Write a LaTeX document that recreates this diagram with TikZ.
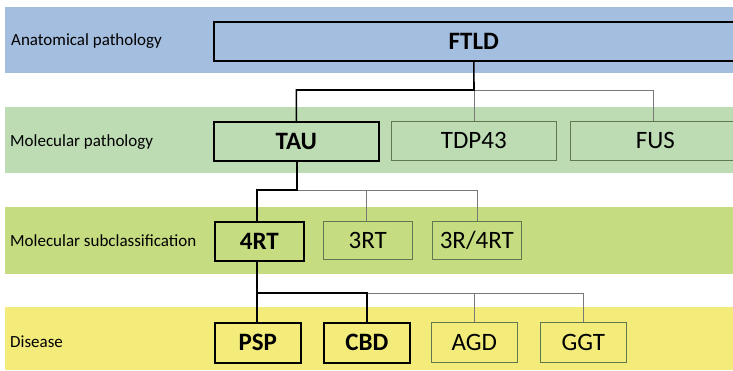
\documentclass[tikz,border=0pt]{standalone}
\usepackage{fontspec}
\setmainfont{Carlito}
\definecolor{bandblue}{RGB}{164,190,224}
\definecolor{bandgreen}{RGB}{190,220,180}
\definecolor{bandlime}{RGB}{198,220,128}
\definecolor{bandyellow}{RGB}{243,236,123}
\definecolor{thinline}{RGB}{120,120,120}
\definecolor{thinbox}{RGB}{95,120,80}
\begin{document}
\begin{tikzpicture}[x=1pt,y=-1pt,
  rowlabel/.style={anchor=west,font=\fontsize{17}{19}\selectfont,inner sep=0pt},
  boldbox/.style={draw=black,line width=1.6pt,font=\fontsize{25}{27}\selectfont\bfseries,inner sep=0pt},
  thinbx/.style={draw=thinbox,line width=0.6pt,font=\fontsize{25}{27}\selectfont,inner sep=0pt},
  thick link/.style={draw=black,line width=1.6pt},
  thin link/.style={draw=thinline,line width=0.6pt}]
\useasboundingbox (0,0) rectangle (733,370);
\fill[white] (0,0) rectangle (733,370);
% bands
\fill[bandblue] (5,7) rectangle (733,73);
\fill[bandgreen] (5,107) rectangle (733,173);
\fill[bandlime] (5,207) rectangle (733,274);
\fill[bandyellow] (5,307) rectangle (733,370);
% row labels
\node[rowlabel] (l1) at (11,41) {Anatomical pathology};
\node[rowlabel] (l2) at (10,142) {Molecular pathology};
\node[rowlabel] (l3) at (10,241) {Molecular subclassification};
\node[rowlabel] (l4) at (10,342) {Disease};
% connector coordinates
\coordinate (j1) at (474,90);
\coordinate (j2) at (297,190);
\coordinate (j3) at (257,293);
% thin connectors first
\draw[thin link] (j1) -| (653,121);
\draw[thin link] (j1) -- (474,121);
\draw[thin link] (j2) -| (477,221);
\draw[thin link] (366,190) -- (366,221);
\draw[thin link] (366,293) -| (583,322);
\draw[thin link] (474,293) -- (474,322);
% boxes
\node[boldbox,fill=bandblue,minimum width=520,minimum height=39,anchor=north west] (ftld) at (213,21) {FTLD};
\node[boldbox,fill=bandgreen,minimum width=165,minimum height=39,anchor=north west] (tau) at (213,121) {TAU};
\node[thinbx,fill=bandgreen,minimum width=165,minimum height=39,anchor=north west] (tdp) at (391,121) {TDP43};
\node[thinbx,fill=bandgreen,minimum width=170,minimum height=39,anchor=north west] (fus) at (570,121) {FUS};
\node[boldbox,fill=bandlime,minimum width=89,minimum height=39,anchor=north west] (r4) at (214,221) {4RT};
\node[thinbx,fill=bandlime,minimum width=89,minimum height=38,anchor=north west] (r3) at (323,221) {3RT};
\node[thinbx,fill=bandlime,minimum width=89,minimum height=38,anchor=north west] (r34) at (432,221) {3R/4RT};
\node[boldbox,fill=bandyellow,minimum width=86,minimum height=40,anchor=north west] (psp) at (214,322) {PSP};
\node[boldbox,fill=bandyellow,minimum width=86,minimum height=40,anchor=north west] (cbd) at (323,322) {CBD};
\node[thinbx,fill=bandyellow,minimum width=86,minimum height=40,anchor=north west] (agd) at (431,322) {AGD};
\node[thinbx,fill=bandyellow,minimum width=86,minimum height=40,anchor=north west] (ggt) at (540,322) {GGT};
% thick connectors
\draw[thick link,line join=miter] (ftld.south) -- (j1) -| (tau.north);
\draw[thick link,line join=miter] (tau.south -| j2) -- (j2) -| (r4.north -| j3);
\draw[thick link,line join=miter] (r4.south -| j3) -- (j3) -- (psp.north -| j3);
\draw[thick link,line join=miter] (j3) -| (cbd.north);
\end{tikzpicture}
\end{document}
